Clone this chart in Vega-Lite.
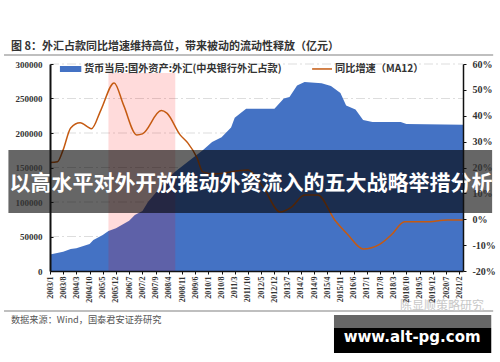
{
"$schema":"https://vega.github.io/schema/vega-lite/v6.json",
"width":413,"height":207,
"autosize":{"type":"none"},
"padding":{"left":50,"top":64,"right":37,"bottom":91},
"background":"white",
"config":{"view":{"stroke":null}},
"encoding":{"x":{"field":"date","type":"temporal","title":null,
 "scale":{"type":"utc","domain":[{"year":2003,"month":1,"date":1,"utc":true},{"year":2021,"month":4,"date":1,"utc":true}],"nice":false},
 "axis":{"format":"%Y/%-m","labelAngle":-90,"labelFont":"Liberation Serif","labelFontWeight":"bold","labelFontSize":8,"labelColor":"#333","labelPadding":2,"labelOverlap":false,"labelBound":false,"labelFlush":false,"grid":false,"domainColor":"#111","domainWidth":1.5,"tickColor":"#111","tickSize":3,"zindex":1,
 "values":[{"year":2003,"month":1,"utc":true},{"year":2003,"month":8,"utc":true},{"year":2004,"month":3,"utc":true},{"year":2004,"month":10,"utc":true},{"year":2005,"month":5,"utc":true},{"year":2005,"month":12,"utc":true},{"year":2006,"month":7,"utc":true},{"year":2007,"month":2,"utc":true},{"year":2007,"month":9,"utc":true},{"year":2008,"month":4,"utc":true},{"year":2008,"month":11,"utc":true},{"year":2009,"month":6,"utc":true},{"year":2010,"month":1,"utc":true},{"year":2010,"month":8,"utc":true},{"year":2011,"month":3,"utc":true},{"year":2011,"month":10,"utc":true},{"year":2012,"month":5,"utc":true},{"year":2012,"month":12,"utc":true},{"year":2013,"month":7,"utc":true},{"year":2014,"month":2,"utc":true},{"year":2014,"month":9,"utc":true},{"year":2015,"month":4,"utc":true},{"year":2015,"month":11,"utc":true},{"year":2016,"month":6,"utc":true},{"year":2017,"month":1,"utc":true},{"year":2017,"month":8,"utc":true},{"year":2018,"month":3,"utc":true},{"year":2018,"month":10,"utc":true},{"year":2019,"month":5,"utc":true},{"year":2019,"month":12,"utc":true},{"year":2020,"month":7,"utc":true},{"year":2021,"month":2,"utc":true}]}}},
"resolve":{"scale":{"y":"independent"},"axis":{"y":"independent"}},
"layer":[
{"encoding":{"y":{"field":"value","type":"quantitative","title":null,"scale":{"domain":[0,300000],"nice":false},
  "axis":{"values":[0,50000,100000,150000,200000,250000,300000],"format":"d","grid":false,"labelFont":"Liberation Serif","labelFontWeight":"bold","labelFontSize":9,"labelColor":"#333","labelPadding":11,"domainColor":"#111","domainWidth":2,"tickColor":"#111","tickSize":-3,"zindex":1}}},
 "layer":[
 {"data":{"values":[{"value":50000,"date":"2003-01-01","date2":"2021-04-01"},{"value":100000,"date":"2003-01-01","date2":"2021-04-01"},{"value":150000,"date":"2003-01-01","date2":"2021-04-01"},{"value":200000,"date":"2003-01-01","date2":"2021-04-01"},{"value":250000,"date":"2003-01-01","date2":"2021-04-01"},{"value":300000,"date":"2003-01-01","date2":"2021-04-01"}]},
  "mark":{"type":"rule","color":"#dddddd","strokeWidth":1,"strokeDash":[9,3,2,3]},
  "encoding":{"x2":{"field":"date2"}}},
 {"data":{"values":[
 {"date":"2003-01-01","value":24000},{"date":"2003-08-01","value":28000},{"date":"2003-12-01","value":32000},{"date":"2004-03-01","value":33000},{"date":"2004-10-01","value":39000},{"date":"2004-12-01","value":45000},{"date":"2005-05-01","value":52000},{"date":"2005-08-01","value":58000},{"date":"2005-12-01","value":62000},{"date":"2006-07-01","value":73000},{"date":"2006-10-01","value":81000},{"date":"2007-02-01","value":87000},{"date":"2007-05-01","value":100000},{"date":"2007-12-01","value":123000},{"date":"2008-07-01","value":143000},{"date":"2009-03-01","value":160000},{"date":"2009-10-01","value":175000},{"date":"2010-03-01","value":187000},{"date":"2010-08-01","value":194000},{"date":"2011-01-01","value":208000},{"date":"2011-03-01","value":222000},{"date":"2011-09-01","value":235000},{"date":"2011-12-01","value":235000},{"date":"2012-12-01","value":235000},{"date":"2013-05-01","value":250000},{"date":"2013-08-01","value":252000},{"date":"2013-12-01","value":269000},{"date":"2014-04-01","value":274000},{"date":"2015-01-01","value":272000},{"date":"2015-06-01","value":268000},{"date":"2015-11-01","value":258000},{"date":"2016-02-01","value":240000},{"date":"2016-07-01","value":234000},{"date":"2016-11-01","value":219000},{"date":"2017-04-01","value":216000},{"date":"2018-07-01","value":216000},{"date":"2018-10-01","value":213000},{"date":"2021-04-01","value":212000}]},
  "mark":{"type":"area","color":"#4472c4","interpolate":"linear"}},
 {"data":{"values":[{"date":"2005-08-01","date2":"2008-07-15","value":0,"value2":287000}]},
  "mark":{"type":"rect","color":"#ff0000","opacity":0.14},
  "encoding":{"x2":{"field":"date2"},"y2":{"field":"value2"}}}
 ]},
{"data":{"values":[
 {"date":"2003-01-01","pct":21.9},{"date":"2003-05-01","pct":22.2},{"date":"2003-08-01","pct":26.8},{"date":"2003-12-01","pct":35.3},{"date":"2004-05-01","pct":37.3},{"date":"2004-11-01","pct":35},{"date":"2005-04-01","pct":42.2},{"date":"2005-11-01","pct":52.7},{"date":"2006-04-01","pct":44.2},{"date":"2006-11-01","pct":32.6},{"date":"2007-02-01","pct":33},{"date":"2007-12-01","pct":42},{"date":"2008-03-01","pct":41},{"date":"2008-10-01","pct":32.6},{"date":"2009-02-01","pct":29.5},{"date":"2009-07-01","pct":23.7},{"date":"2009-10-01","pct":18.3},{"date":"2010-04-01","pct":17.5},{"date":"2011-10-01","pct":19},{"date":"2012-06-01","pct":12.5},{"date":"2013-03-01","pct":2.8},{"date":"2013-09-01","pct":4.7},{"date":"2014-04-01","pct":9.4},{"date":"2014-11-01","pct":9.4},{"date":"2015-08-01","pct":-0.3},{"date":"2016-03-01","pct":-6},{"date":"2016-11-01","pct":-11.5},{"date":"2017-08-01","pct":-9.6},{"date":"2018-02-01","pct":-6},{"date":"2018-09-01","pct":-1},{"date":"2019-08-01","pct":-1},{"date":"2020-08-01","pct":-0.3},{"date":"2021-04-01","pct":-0.3}]},
 "mark":{"type":"line","color":"#c55a11","strokeWidth":1.5,"interpolate":"monotone"},
 "encoding":{"y":{"field":"pct","type":"quantitative","title":null,"scale":{"domain":[-20,60],"nice":false},
  "axis":{"orient":"right","values":[-20,-10,0,10,20,30,40,50,60],"labelExpr":"datum.value+'%'","grid":false,"labelFont":"Liberation Serif","labelFontWeight":"bold","labelFontSize":10,"labelColor":"#333","labelPadding":6,"domainColor":"#111","domainWidth":1.5,"tickColor":"#111","tickSize":3,"zindex":1}}}},
{"encoding":{"y":{"field":"value","type":"quantitative","title":null,"scale":{"domain":[0,300000],"nice":false},"axis":null}},
 "layer":[
 {"data":{"values":[{"date":"2000-12-20","date2":"2022-08-01","value":313000},{"date":"2000-12-20","date2":"2022-08-01","value":-58000}]},
  "mark":{"type":"rule","color":"#aaaaaa","strokeWidth":1.5},
  "encoding":{"x2":{"field":"date2"}}},
 {"data":{"values":[{"date":"2003-06-10","date2":"2004-05-20","value":297100,"value2":288400}]},
  "mark":{"type":"rect","color":"#4472c4"},
  "encoding":{"x2":{"field":"date2"},"y2":{"field":"value2"}}},
 {"data":{"values":[{"date":"2014-08-01","date2":"2015-06-18","value":292800}]},
  "mark":{"type":"rule","color":"#c55a11","strokeWidth":1.5},
  "encoding":{"x2":{"field":"date2"}}},
 {"data":{"values":[{"date":"2004-07-01","value":292800,"label":"货币当局:国外资产:外汇(中央银行外汇占款)"},{"date":"2015-08-06","value":292800,"label":"同比增速（MA12）"}]},
  "mark":{"type":"text","align":"left","baseline":"middle","font":"Noto Sans CJK SC","fontWeight":"bold","fontSize":10.2,"color":"#333"},
  "encoding":{"text":{"field":"label"}}},
 {"data":{"values":[{"date":"2001-04-10","value":324600,"label":"图 8：外汇占款同比增速维持高位，带来被动的流动性释放（亿元）"}]},
  "mark":{"type":"text","align":"left","baseline":"middle","font":"Noto Sans CJK SC","fontWeight":"bold","fontSize":11,"color":"#333"},
  "encoding":{"text":{"field":"label"}}},
 {"data":{"values":[{"date":"2001-04-10","value":-71000,"label":"数据来源：Wind，国泰君安证券研究"}]},
  "mark":{"type":"text","align":"left","baseline":"middle","font":"Noto Sans CJK SC","fontSize":9.2,"color":"#555"},
  "encoding":{"text":{"field":"label"}}},
 {"data":{"values":[{"date":"2018-06-20","value":-50700,"label":"陈显顺策略研究"}]},
  "mark":{"type":"text","align":"left","baseline":"middle","font":"Noto Sans CJK SC","fontSize":12,"color":"#c8c8c8"},
  "encoding":{"text":{"field":"label"}}},
 {"data":{"values":[{"date":"2001-03-01","date2":"2022-07-15","value":175365,"value2":84060}]},
  "mark":{"type":"rect","color":"#000000","opacity":0.6},
  "encoding":{"x2":{"field":"date2"},"y2":{"field":"value2"}}},
 {"data":{"values":[{"date":"2011-11-19","value":126090,"label":"以高水平对外开放推动外资流入的五大战略举措分析"}]},
  "mark":{"type":"text","align":"center","baseline":"middle","font":"Noto Sans CJK SC","fontWeight":"bold","fontSize":21,"color":"#ffffff"},
  "encoding":{"text":{"field":"label"}}},
 {"data":{"values":[{"date":"2015-07-20","date2":"2022-07-01","value":-82610,"value2":-118843}]},
  "mark":{"type":"rect","color":"#000000"},
  "encoding":{"x2":{"field":"date2"},"y2":{"field":"value2"}}},
 {"data":{"values":[{"date":"2015-07-20","date2":"2022-07-01","value":-63768,"value2":-82610}]},
  "mark":{"type":"rect","color":"#666666"},
  "encoding":{"x2":{"field":"date2"},"y2":{"field":"value2"}}},
 {"data":{"values":[{"date":"2019-01-01","value":-96000,"label":"www.alt-pg.com"}]},
  "mark":{"type":"text","align":"center","baseline":"middle","font":"DejaVu Sans","fontWeight":"bold","fontSize":15,"color":"#ffffff"},
  "encoding":{"text":{"field":"label"}}}
 ]}
]
}
